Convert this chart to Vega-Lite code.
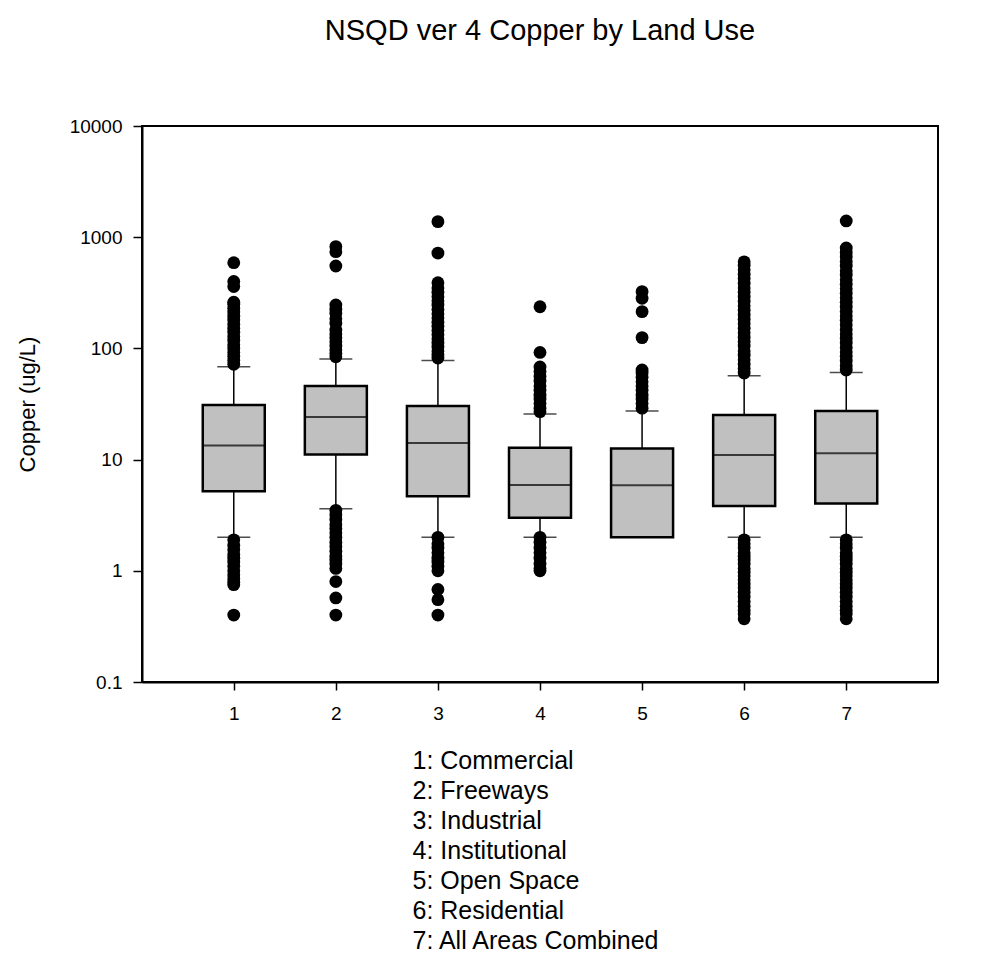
{
  "$schema": "https://vega.github.io/schema/vega-lite/v6.json",
  "width": 796,
  "height": 556,
  "autosize": {"type": "none"},
  "padding": {"left": 142, "top": 126, "right": 65, "bottom": 273},
  "background": "white",
  "title": {
    "text": "NSQD ver 4 Copper by Land Use",
    "font": "Liberation Sans",
    "fontSize": 29,
    "fontWeight": "normal",
    "color": "black",
    "anchor": "middle",
    "baseline": "alphabetic",
    "offset": 48
  },
  "config": {
    "view": {"stroke": "black", "strokeWidth": 2},
    "font": "Liberation Sans",
    "axis": {
      "grid": false,
      "domainColor": "black",
      "domainWidth": 2,
      "tickColor": "black",
      "tickWidth": 1.5,
      "labelColor": "black",
      "titleColor": "black",
      "labelFont": "Liberation Sans",
      "titleFont": "Liberation Sans"
    }
  },
  "datasets": {
    "boxes": [
      {"g": 1, "lo": 2.0, "q1": 5.2, "med": 13.4, "q3": 31.0, "hi": 68.5},
      {"g": 2, "lo": 3.62, "q1": 11.1, "med": 24.1, "q3": 45.9, "hi": 80.5},
      {"g": 3, "lo": 2.0, "q1": 4.67, "med": 14.1, "q3": 30.3, "hi": 77.8},
      {"g": 4, "lo": 2.0, "q1": 3.0, "med": 5.91, "q3": 12.8, "hi": 25.7},
      {"g": 5, "lo": 2.0, "q1": 2.0, "med": 5.87, "q3": 12.6, "hi": 27.3},
      {"g": 6, "lo": 2.0, "q1": 3.82, "med": 11.0, "q3": 25.2, "hi": 56.9},
      {"g": 7, "lo": 2.0, "q1": 4.02, "med": 11.4, "q3": 27.3, "hi": 60.6}
    ],
    "outliers": [
      {"g": 1, "v": 72}, {"g": 1, "v": 78}, {"g": 1, "v": 85}, {"g": 1, "v": 92}, {"g": 1, "v": 100},
      {"g": 1, "v": 108}, {"g": 1, "v": 118}, {"g": 1, "v": 128}, {"g": 1, "v": 140}, {"g": 1, "v": 152},
      {"g": 1, "v": 165}, {"g": 1, "v": 180}, {"g": 1, "v": 195}, {"g": 1, "v": 212}, {"g": 1, "v": 230},
      {"g": 1, "v": 250}, {"g": 1, "v": 260}, {"g": 1, "v": 360}, {"g": 1, "v": 400}, {"g": 1, "v": 590},
      {"g": 1, "v": 1.9}, {"g": 1, "v": 1.7}, {"g": 1, "v": 1.55}, {"g": 1, "v": 1.4}, {"g": 1, "v": 1.3},
      {"g": 1, "v": 1.2}, {"g": 1, "v": 1.1}, {"g": 1, "v": 1.0}, {"g": 1, "v": 0.92}, {"g": 1, "v": 0.85},
      {"g": 1, "v": 0.79}, {"g": 1, "v": 0.75}, {"g": 1, "v": 0.4},

      {"g": 2, "v": 84}, {"g": 2, "v": 90}, {"g": 2, "v": 97}, {"g": 2, "v": 105}, {"g": 2, "v": 115},
      {"g": 2, "v": 125}, {"g": 2, "v": 135}, {"g": 2, "v": 146}, {"g": 2, "v": 168}, {"g": 2, "v": 185},
      {"g": 2, "v": 207}, {"g": 2, "v": 225}, {"g": 2, "v": 246}, {"g": 2, "v": 551}, {"g": 2, "v": 741},
      {"g": 2, "v": 822},
      {"g": 2, "v": 3.5}, {"g": 2, "v": 3.2}, {"g": 2, "v": 2.9}, {"g": 2, "v": 2.6}, {"g": 2, "v": 2.4},
      {"g": 2, "v": 2.2}, {"g": 2, "v": 2.0}, {"g": 2, "v": 1.8}, {"g": 2, "v": 1.65}, {"g": 2, "v": 1.5},
      {"g": 2, "v": 1.35}, {"g": 2, "v": 1.25}, {"g": 2, "v": 1.15}, {"g": 2, "v": 1.05}, {"g": 2, "v": 0.8},
      {"g": 2, "v": 0.57}, {"g": 2, "v": 0.4},

      {"g": 3, "v": 82}, {"g": 3, "v": 88}, {"g": 3, "v": 95}, {"g": 3, "v": 103}, {"g": 3, "v": 112},
      {"g": 3, "v": 122}, {"g": 3, "v": 133}, {"g": 3, "v": 145}, {"g": 3, "v": 158}, {"g": 3, "v": 172},
      {"g": 3, "v": 188}, {"g": 3, "v": 205}, {"g": 3, "v": 224}, {"g": 3, "v": 245}, {"g": 3, "v": 268},
      {"g": 3, "v": 292}, {"g": 3, "v": 320}, {"g": 3, "v": 350}, {"g": 3, "v": 390}, {"g": 3, "v": 720},
      {"g": 3, "v": 1380},
      {"g": 3, "v": 2.0}, {"g": 3, "v": 1.75}, {"g": 3, "v": 1.6}, {"g": 3, "v": 1.45}, {"g": 3, "v": 1.3},
      {"g": 3, "v": 1.2}, {"g": 3, "v": 1.1}, {"g": 3, "v": 1.0}, {"g": 3, "v": 0.68}, {"g": 3, "v": 0.55},
      {"g": 3, "v": 0.4},

      {"g": 4, "v": 27}, {"g": 4, "v": 29}, {"g": 4, "v": 32}, {"g": 4, "v": 35}, {"g": 4, "v": 38},
      {"g": 4, "v": 42}, {"g": 4, "v": 46}, {"g": 4, "v": 51}, {"g": 4, "v": 56}, {"g": 4, "v": 62},
      {"g": 4, "v": 68}, {"g": 4, "v": 92}, {"g": 4, "v": 237},
      {"g": 4, "v": 2.0}, {"g": 4, "v": 1.8}, {"g": 4, "v": 1.6}, {"g": 4, "v": 1.45}, {"g": 4, "v": 1.3},
      {"g": 4, "v": 1.15}, {"g": 4, "v": 1.05}, {"g": 4, "v": 1.0},

      {"g": 5, "v": 29}, {"g": 5, "v": 32}, {"g": 5, "v": 35}, {"g": 5, "v": 38}, {"g": 5, "v": 42},
      {"g": 5, "v": 46}, {"g": 5, "v": 50}, {"g": 5, "v": 55}, {"g": 5, "v": 60}, {"g": 5, "v": 64},
      {"g": 5, "v": 125}, {"g": 5, "v": 214}, {"g": 5, "v": 282}, {"g": 5, "v": 324},

      {"g": 6, "v": 60}, {"g": 6, "v": 66}, {"g": 6, "v": 72}, {"g": 6, "v": 79}, {"g": 6, "v": 87},
      {"g": 6, "v": 95}, {"g": 6, "v": 105}, {"g": 6, "v": 115}, {"g": 6, "v": 126}, {"g": 6, "v": 138},
      {"g": 6, "v": 152}, {"g": 6, "v": 167}, {"g": 6, "v": 183}, {"g": 6, "v": 200}, {"g": 6, "v": 220},
      {"g": 6, "v": 242}, {"g": 6, "v": 265}, {"g": 6, "v": 290}, {"g": 6, "v": 320}, {"g": 6, "v": 350},
      {"g": 6, "v": 385}, {"g": 6, "v": 425}, {"g": 6, "v": 465}, {"g": 6, "v": 510}, {"g": 6, "v": 560},
      {"g": 6, "v": 600},
      {"g": 6, "v": 1.9}, {"g": 6, "v": 1.75}, {"g": 6, "v": 1.6}, {"g": 6, "v": 1.45}, {"g": 6, "v": 1.35},
      {"g": 6, "v": 1.25}, {"g": 6, "v": 1.15}, {"g": 6, "v": 1.05}, {"g": 6, "v": 0.97}, {"g": 6, "v": 0.9},
      {"g": 6, "v": 0.83}, {"g": 6, "v": 0.76}, {"g": 6, "v": 0.7}, {"g": 6, "v": 0.64}, {"g": 6, "v": 0.58},
      {"g": 6, "v": 0.53}, {"g": 6, "v": 0.48}, {"g": 6, "v": 0.44}, {"g": 6, "v": 0.41}, {"g": 6, "v": 0.37},

      {"g": 7, "v": 64}, {"g": 7, "v": 70}, {"g": 7, "v": 77}, {"g": 7, "v": 85}, {"g": 7, "v": 93},
      {"g": 7, "v": 102}, {"g": 7, "v": 112}, {"g": 7, "v": 123}, {"g": 7, "v": 135}, {"g": 7, "v": 148},
      {"g": 7, "v": 163}, {"g": 7, "v": 179}, {"g": 7, "v": 196}, {"g": 7, "v": 215}, {"g": 7, "v": 236},
      {"g": 7, "v": 260}, {"g": 7, "v": 285}, {"g": 7, "v": 313}, {"g": 7, "v": 344}, {"g": 7, "v": 378},
      {"g": 7, "v": 415}, {"g": 7, "v": 456}, {"g": 7, "v": 500}, {"g": 7, "v": 550}, {"g": 7, "v": 605},
      {"g": 7, "v": 665}, {"g": 7, "v": 730}, {"g": 7, "v": 800}, {"g": 7, "v": 1400},
      {"g": 7, "v": 1.9}, {"g": 7, "v": 1.75}, {"g": 7, "v": 1.6}, {"g": 7, "v": 1.45}, {"g": 7, "v": 1.35},
      {"g": 7, "v": 1.25}, {"g": 7, "v": 1.15}, {"g": 7, "v": 1.05}, {"g": 7, "v": 0.97}, {"g": 7, "v": 0.9},
      {"g": 7, "v": 0.83}, {"g": 7, "v": 0.76}, {"g": 7, "v": 0.7}, {"g": 7, "v": 0.64}, {"g": 7, "v": 0.58},
      {"g": 7, "v": 0.53}, {"g": 7, "v": 0.48}, {"g": 7, "v": 0.44}, {"g": 7, "v": 0.41}, {"g": 7, "v": 0.37}
    ]
  },
  "encoding": {
    "x": {
      "type": "quantitative",
      "scale": {"domain": [0.15, 7.85], "nice": false, "zero": false},
      "axis": {
        "values": [1, 2, 3, 4, 5, 6, 7],
        "format": "d",
        "tickSize": 8,
        "labelFontSize": 19,
        "labelPadding": 14,
        "labelFont": "Liberation Sans",
        "title": ["1: Commercial", "2: Freeways", "3: Industrial", "4: Institutional", "5: Open Space", "6: Residential", "7: All Areas Combined"],
        "titleFontSize": 25,
        "titleFontWeight": "normal",
        "titleAlign": "left",
        "titleAnchor": "start",
        "titleBaseline": "top",
        "titleX": 270,
        "titleY": 66,
        "titleLineHeight": 30
      }
    },
    "y": {
      "type": "quantitative",
      "scale": {"type": "log", "domain": [0.1, 10000], "nice": false},
      "axis": {
        "values": [0.1, 1, 10, 100, 1000, 10000],
        "format": "~g",
        "tickSize": 9,
        "labelFontSize": 19,
        "labelPadding": 11,
        "title": "Copper (ug/L)",
        "titleFontSize": 22,
        "titleFontWeight": "normal",
        "titlePadding": 30
      }
    }
  },
  "layer": [
    {
      "data": {"name": "boxes"},
      "mark": {"type": "rule", "color": "black", "strokeWidth": 1.5},
      "encoding": {"x": {"field": "g"}, "y": {"field": "q3"}, "y2": {"field": "hi"}}
    },
    {
      "data": {"name": "boxes"},
      "mark": {"type": "rule", "color": "black", "strokeWidth": 1.5},
      "encoding": {"x": {"field": "g"}, "y": {"field": "lo"}, "y2": {"field": "q1"}}
    },
    {
      "data": {"name": "outliers"},
      "mark": {"type": "circle", "color": "black", "opacity": 1, "size": 165},
      "encoding": {"x": {"field": "g"}, "y": {"field": "v"}}
    },
    {
      "data": {"name": "boxes"},
      "mark": {"type": "tick", "orient": "horizontal", "color": "black", "size": 33, "thickness": 1.5},
      "encoding": {"x": {"field": "g"}, "y": {"field": "hi"}}
    },
    {
      "data": {"name": "boxes"},
      "mark": {"type": "tick", "orient": "horizontal", "color": "black", "size": 33, "thickness": 1.5},
      "encoding": {"x": {"field": "g"}, "y": {"field": "lo"}}
    },
    {
      "data": {"name": "boxes"},
      "mark": {"type": "bar", "orient": "vertical", "size": 62, "fill": "#c0c0c0", "stroke": "black", "strokeWidth": 2.5},
      "encoding": {"x": {"field": "g"}, "y": {"field": "q1"}, "y2": {"field": "q3"}}
    },
    {
      "data": {"name": "boxes"},
      "mark": {"type": "tick", "orient": "horizontal", "color": "black", "size": 62, "thickness": 2},
      "encoding": {"x": {"field": "g"}, "y": {"field": "med"}}
    }
  ]
}
